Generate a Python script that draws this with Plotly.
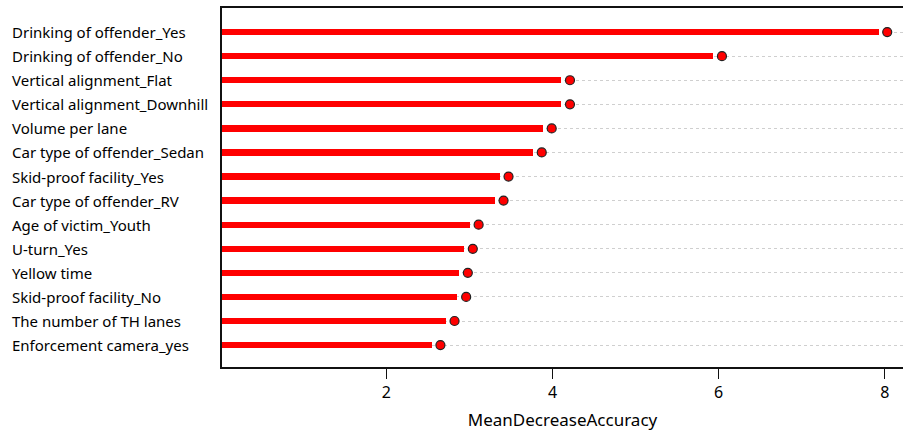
import plotly.graph_objects as go

# Categories from bottom to top
features = [
    "Enforcement camera_yes",
    "The number of TH lanes",
    "Skid-proof facility_No",
    "Yellow time",
    "U-turn_Yes",
    "Age of victim_Youth",
    "Car type of offender_RV",
    "Skid-proof facility_Yes",
    "Car type of offender_Sedan",
    "Volume per lane",
    "Vertical alignment_Downhill",
    "Vertical alignment_Flat",
    "Drinking of offender_No",
    "Drinking of offender_Yes",
]
mean_decrease_accuracy = [2.65, 2.82, 2.96, 2.98, 3.04, 3.11, 3.41, 3.47,
                          3.87, 3.99, 4.21, 4.21, 6.04, 8.03]
x_ticks = [2, 4, 6, 8]

BAR_GAP = 0.105  # visual gap between bar end and dot

fig = go.Figure()
fig.add_trace(go.Bar(
    y=features,
    x=[v - BAR_GAP for v in mean_decrease_accuracy],
    orientation="h",
    width=0.26,
    marker=dict(color="#ff0000", line=dict(width=0)),
    hoverinfo="skip",
))
fig.add_trace(go.Scatter(
    y=features,
    x=mean_decrease_accuracy,
    mode="markers",
    marker=dict(size=9, color="#ff0000", line=dict(color="#222222", width=1.2)),
))

for f in features:
    fig.add_annotation(
        x=-0.312, xref="x domain", xanchor="left",
        y=f, yref="y", yanchor="middle",
        text=f, showarrow=False,
        font=dict(family="Noto Sans", size=15, color="#000000"),
    )

fig.update_layout(
    width=903, height=431,
    margin=dict(l=222, r=0, t=8, b=64),
    paper_bgcolor="white", plot_bgcolor="white",
    showlegend=False,
    bargap=0,
    font=dict(family="Noto Sans", size=15, color="#000000"),
)
fig.update_xaxes(
    range=[0.02, 8.22],
    tickvals=x_ticks,
    ticks="outside", ticklen=10, tickwidth=1.2, tickcolor="#111111",
    showline=True, linecolor="#111111", linewidth=1.5, mirror=True,
    showgrid=False, zeroline=False,
    tickfont=dict(family="Noto Sans", size=16, color="#000000"),
    title=dict(text="MeanDecreaseAccuracy", standoff=14,
               font=dict(family="Noto Sans", size=17, color="#000000")),
)
fig.update_yaxes(
    type="category",
    categoryorder="array", categoryarray=features,
    range=[-0.91, 14.0],
    showticklabels=False, ticks="",
    showline=True, linecolor="#111111", linewidth=1.5, mirror=False,
    showgrid=True, gridcolor="#cfcfcf", gridwidth=1, griddash="dot",
    zeroline=False,
)

fig.write_html("out.html")
